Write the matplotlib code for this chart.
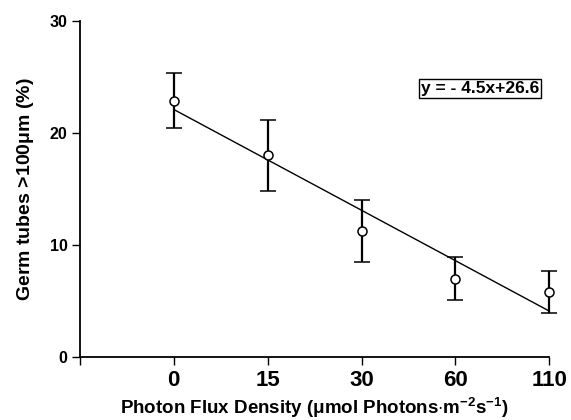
import numpy as np
import matplotlib.pyplot as plt
from matplotlib import rcParams

rcParams['font.family'] = ['Liberation Sans', 'DejaVu Sans']
rcParams['font.weight'] = 'bold'
rcParams['mathtext.fontset'] = 'custom'
rcParams['mathtext.rm'] = 'Liberation Sans:bold'
rcParams['mathtext.it'] = 'Liberation Sans:bold'
rcParams['mathtext.bf'] = 'Liberation Sans:bold'

# data
pfd_labels = ['0', '15', '30', '60', '110']
germ_tubes = [22.9, 18.0, 11.25, 7.0, 5.8]
err = [2.45, 3.2, 2.8, 1.9, 1.9]
slope = -4.5
intercept = 26.6

pos = np.arange(len(pfd_labels))
fit = intercept + slope * (pos + 1)

fig = plt.figure(figsize=(5.71, 4.2), dpi=100)
ax = fig.add_axes([0.140, 0.150, 0.822, 0.800])

ax.plot(pos, fit, color='black', lw=1.0, clip_on=False)
ebar = ax.errorbar(pos, germ_tubes, yerr=err, fmt='o', color='black', mfc='white',
                   mec='black', ms=6.5, mew=1.1, ecolor='black', elinewidth=1.6,
                   capsize=5.5, capthick=1.6, zorder=3)
for artist in ebar.lines[0:1] + tuple(ebar.lines[1]) + tuple(ebar.lines[2]):
    artist.set_clip_on(False)

ax.set_xlim(-1, 4)
ax.set_ylim(0, 30)
ax.set_xticks(np.arange(-1, 5))
ax.set_xticklabels([''] + pfd_labels, fontsize=16, fontweight='bold')
ax.set_yticks([0, 10, 20, 30])
ax.set_yticklabels(['0', '10', '20', '30'], fontsize=11.5, fontweight='bold')
ax.tick_params(axis='x', length=6, width=1.0, direction='out', pad=3)
ax.tick_params(axis='y', length=6, width=1.0, direction='out', pad=3)

for s in ['top', 'right']:
    ax.spines[s].set_visible(False)
ax.spines['left'].set_linewidth(1.3)
ax.spines['bottom'].set_linewidth(1.3)

ax.set_xlabel(r'Photon Flux Density ($\mu$mol Photons$\cdot$m$^{-2}$s$^{-1}$)',
              fontsize=13.5, fontweight='bold', labelpad=4)
ax.set_ylabel(r'Germ tubes >100$\mu$m (%)', fontsize=14, fontweight='bold',
              labelpad=10)

ax.text(0.978, 0.80, 'y = - 4.5x+26.6', transform=ax.transAxes,
        ha='right', va='center', fontsize=12.5, fontweight='bold',
        bbox=dict(boxstyle='square,pad=0.12', fc='white', ec='black', lw=1.0))

fig.savefig('out.png', dpi=100)
